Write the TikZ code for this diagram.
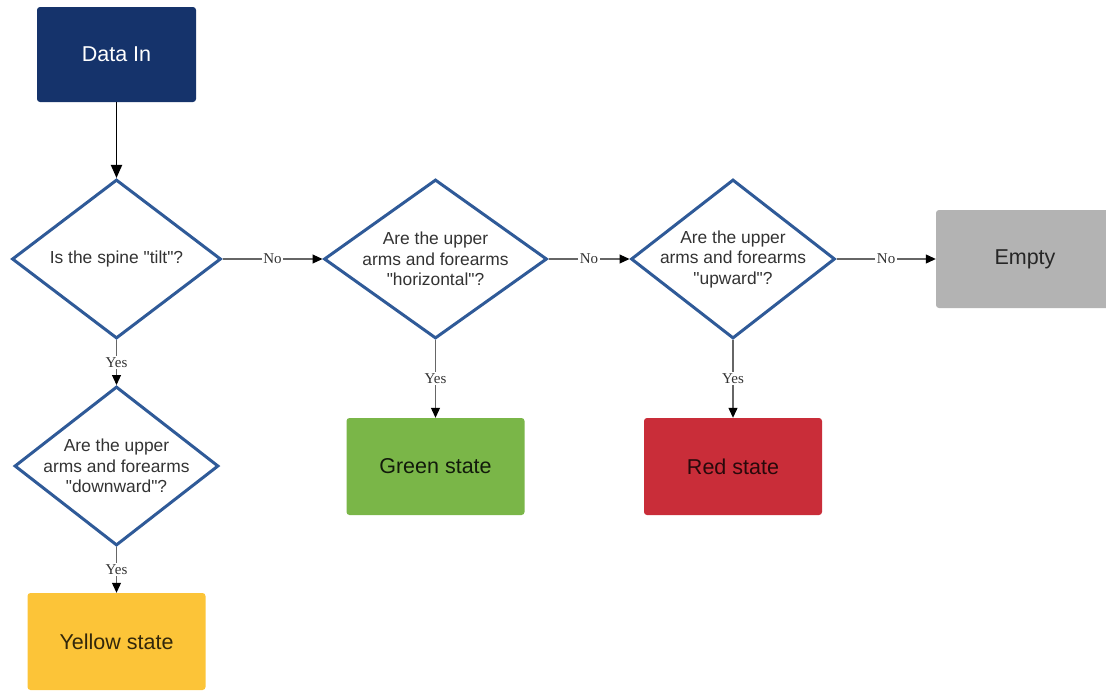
\documentclass[tikz,border=0pt]{standalone}
\usepackage{fontspec}
\setmainfont{Liberation Sans}[Ligatures=TeXOff]
\newfontfamily\labelfont{Liberation Serif}
\usetikzlibrary{shapes.geometric,arrows.meta}

\definecolor{navy}{HTML}{15336B}
\definecolor{diablue}{HTML}{2F5A98}
\definecolor{stategreen}{HTML}{7AB648}
\definecolor{statered}{HTML}{C92D39}
\definecolor{stateyellow}{HTML}{FCC438}
\definecolor{stategrey}{HTML}{B3B3B3}

\begin{document}
\begin{tikzpicture}[x=1pt,y=-1pt,
  statebox/.style={rectangle, rounded corners=3pt, minimum width=178pt,
    minimum height=97pt, inner sep=0pt, font=\fontsize{21.5}{25}\selectfont},
  decision/.style={diamond, draw=diablue, line width=3pt, fill=white,
    inner sep=0pt, minimum height=159pt, minimum width=#1},
  question/.style={align=center, inner sep=0pt, text=black!80,
    font=\fontsize{17.4}{20.5}\selectfont},
  flow/.style={draw=black!60, line width=1.1pt,
    -{Triangle[length=10pt,width=9pt,color=black]}},
  mainflow/.style={draw=black, line width=1.8pt,
    -{Triangle[length=13pt,width=11pt]}},
  answer/.style={fill=white, inner sep=1.5pt, text=black!80,
    font=\labelfont\fontsize{15}{15}\selectfont}]

\useasboundingbox (0,0) rectangle (1106,691);
\clip (0,0) rectangle (1106,691);

% start box
\node[statebox, fill=navy, text=white, minimum width=159pt, minimum height=95pt]
  (datain) at (116.5,54.5) {Data In};

% decisions
\node[decision=209pt] (d1) at (116.5,259) {};
\node[question] (q1) at (d1) {Is the spine "tilt"?};

\node[decision=223pt] (d2) at (435.5,259) {};
\node[question] (q2) at (d2) {Are the upper\\arms and forearms\\"horizontal"?};

\node[decision=204pt] (d3) at (733,259) {};
\node[question] (q3) at (d3) {Are the upper\\arms and forearms\\"upward"?};

\node[decision=204pt] (d4) at (116.5,466) {};
\node[question] (q4) at (d4) {Are the upper\\arms and forearms\\"downward"?};

% outcome states
\node[statebox, fill=stategrey, text=black!85, minimum height=98pt]
  (empty) at (1025,259) {Empty};
\node[statebox, fill=stategreen, text=black!85!stategreen] (green) at (435.5,466.5) {Green state};
\node[statebox, fill=statered, text=black!80!statered] (red) at (733,466.5) {Red state};
\node[statebox, fill=stateyellow, text=black!80!stateyellow] (yellow) at (116.5,641.5) {Yellow state};

% connectors
\draw[mainflow] (datain) -- (d1);
\draw[flow] (d1) -- node[answer] {No} (d2);
\draw[flow] (d2) -- node[answer] {No} (d3);
\draw[flow] (d3) -- node[answer] {No} (empty);
\draw[flow] (d1) -- node[answer] {Yes} (d4);
\draw[flow] (d2) -- node[answer] {Yes} (green);
\draw[flow] (d3) -- node[answer] {Yes} (red);
\draw[flow] (d4) -- node[answer] {Yes} (yellow);
\end{tikzpicture}
\end{document}
